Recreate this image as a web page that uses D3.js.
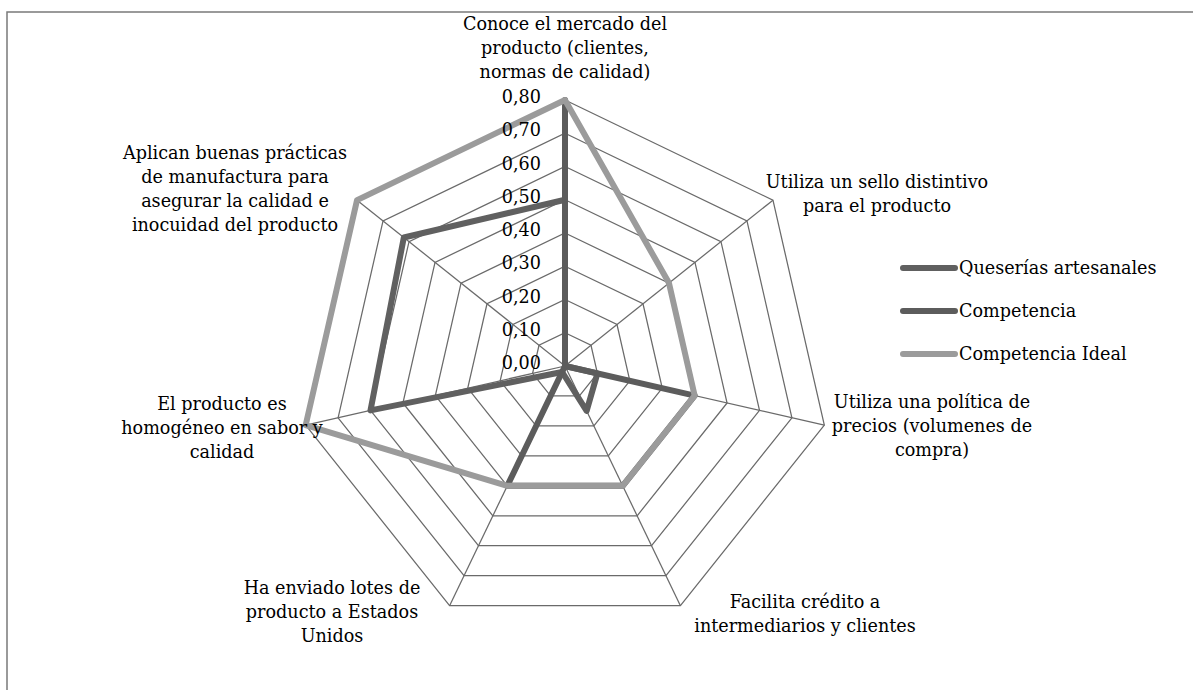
<!DOCTYPE html>
<html>
<head>
<meta charset="utf-8">
<script src="https://cdn.jsdelivr.net/npm/d3@7"></script>
<style>
  html, body { margin: 0; padding: 0; background: #fff; }
  svg { display: block; }
  text { font-family: "DejaVu Serif", serif; fill: #000; }
</style>
</head>
<body>
<svg id="chart" width="1193" height="690"></svg>
<script>
// Axis labels (clockwise from the top), one array of lines per axis
const categories = [
  ["Conoce el mercado del", "producto (clientes,", "normas de calidad)"],
  ["Utiliza un sello distintivo", "para el producto"],
  ["Utiliza una política de", "precios (volumenes de", "compra)"],
  ["Facilita crédito a", "intermediarios y clientes"],
  ["Ha enviado lotes de", "producto a Estados", "Unidos"],
  ["El producto es", "homogéneo en sabor y", "calidad"],
  ["Aplican buenas prácticas", "de manufactura para", "asegurar la calidad e", "inocuidad del producto"]
];

const seriesNames = ["Queserías artesanales", "Competencia", "Competencia Ideal"];
const queserias   = [0.50, 0.00, 0.10, 0.15, 0.02, 0.60, 0.62];
const competencia = [0.80, 0.00, 0.40, 0.40, 0.40, 0.00, 0.00];
const ideal       = [0.80, 0.40, 0.40, 0.40, 0.40, 0.80, 0.80];
const seriesColors = ["#606060", "#5c5c5c", "#9b9b9b"];
const tickValues = [0, 0.1, 0.2, 0.3, 0.4, 0.5, 0.6, 0.7, 0.8];
const tickLabels = ["0,00", "0,10", "0,20", "0,30", "0,40", "0,50", "0,60", "0,70", "0,80"];

const svg = d3.select("#chart");
const cx = 565, cy = 366, R = 266;
const n = categories.length;
const fontSize = 17.6;

const r = d3.scaleLinear().domain([0, 0.8]).range([0, R]);
const angle = d3.scaleLinear().domain([0, n]).range([0, 2 * Math.PI]);
const pt = (i, v) => [cx + r(v) * Math.sin(angle(i)), cy - r(v) * Math.cos(angle(i))];

// Outer frame
svg.append("rect")
  .attr("x", 7).attr("y", 12)
  .attr("width", 1200).attr("height", 700)
  .attr("fill", "none").attr("stroke", "#7a7a7a").attr("stroke-width", 1.5);

const g = svg.append("g");

// Grid rings (polygons)
tickValues.slice(1).forEach(t => {
  g.append("polygon")
    .attr("points", d3.range(n).map(i => pt(i, t).join(",")).join(" "))
    .attr("fill", "none").attr("stroke", "#6a6a6a").attr("stroke-width", 1.25);
});

// Spokes
d3.range(n).forEach(i => {
  const [x, y] = pt(i, 0.8);
  g.append("line")
    .attr("x1", cx).attr("y1", cy).attr("x2", x).attr("y2", y)
    .attr("stroke", "#6a6a6a").attr("stroke-width", 1.25);
});

// Series
const radial = d3.lineRadial()
  .angle((d, i) => angle(i))
  .radius(d => r(d))
  .curve(d3.curveLinearClosed);

[queserias, competencia, ideal].forEach((vals, k) => {
  g.append("path")
    .attr("transform", `translate(${cx},${cy})`)
    .attr("d", radial(vals))
    .attr("fill", "none")
    .attr("stroke", seriesColors[k])
    .attr("stroke-width", 6)
    .attr("stroke-linejoin", "round");
});

// Value labels along the top axis
g.selectAll("text.tick")
  .data(tickValues)
  .join("text")
  .attr("class", "tick")
  .attr("x", 541)
  .attr("y", d => cy - r(d) - 3)
  .attr("text-anchor", "end")
  .attr("dominant-baseline", "central")
  .attr("font-size", fontSize)
  .text((d, i) => tickLabels[i]);

// Category labels: anchor point (centre x, first baseline) per axis
const labelPos = [
  [565, 30], [877, 188], [932, 408], [805, 608],
  [332, 594], [222, 410], [235, 159]
];
categories.forEach((lines, i) => {
  const t = g.append("text")
    .attr("text-anchor", "middle")
    .attr("font-size", fontSize);
  lines.forEach((s, j) => {
    t.append("tspan")
      .attr("x", labelPos[i][0])
      .attr("y", labelPos[i][1] + j * 24)
      .text(s);
  });
});

// Legend
const legend = svg.append("g");
seriesNames.forEach((name, k) => {
  const y = 268 + k * 43;
  legend.append("line")
    .attr("x1", 903).attr("x2", 955).attr("y1", y).attr("y2", y)
    .attr("stroke", seriesColors[k]).attr("stroke-width", 6)
    .attr("stroke-linecap", "round");
  legend.append("text")
    .attr("x", 959).attr("y", y)
    .attr("dominant-baseline", "central")
    .attr("font-size", fontSize)
    .text(name);
});
</script>
</body>
</html>
